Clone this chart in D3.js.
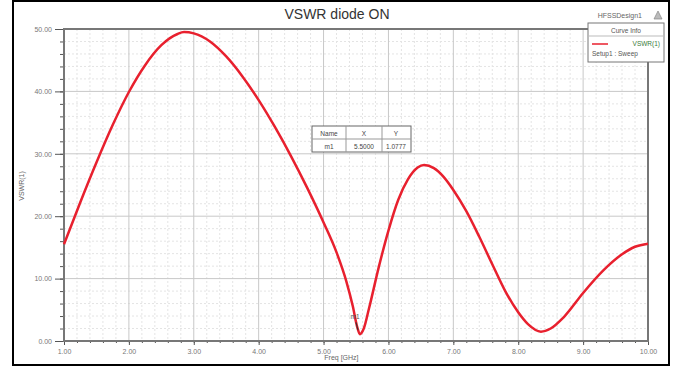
<!DOCTYPE html>
<html>
<head>
<meta charset="utf-8">
<script src="https://cdn.jsdelivr.net/npm/d3@7"></script>
<style>
  body { margin: 0; background: #fff; }
  svg text { font-family: "Liberation Sans", Arial, sans-serif; }
</style>
</head>
<body>
<div id="chart"></div>
<script>
// frequency points (GHz) and VSWR values
const freqs = [1.0, 1.25, 1.5, 1.75, 2.0, 2.25, 2.5, 2.75, 2.85, 3.0, 3.25, 3.5, 3.75, 4.0, 4.25, 4.5, 4.75, 5.0, 5.2, 5.35, 5.45, 5.52, 5.56, 5.62, 5.7, 5.85, 6.0, 6.15, 6.3, 6.45, 6.55, 6.7, 6.85, 7.0, 7.2, 7.4, 7.6, 7.8, 8.0, 8.15, 8.35, 8.5, 8.7, 9.0, 9.3, 9.6, 9.8, 10.0];
const vswr  = [15.5, 22.2, 28.6, 34.6, 39.9, 44.2, 47.4, 49.2, 49.5, 49.3, 48.0, 45.6, 42.4, 38.6, 34.3, 29.6, 24.5, 19.0, 14.2, 9.6, 5.6, 2.2, 1.1, 2.0, 5.2, 11.8, 17.7, 22.6, 25.9, 27.8, 28.2, 27.7, 26.3, 24.2, 20.8, 16.7, 12.3, 8.0, 4.6, 2.7, 1.5, 2.0, 3.8, 7.7, 11.2, 13.9, 15.1, 15.6];

const xTicks = [1, 2, 3, 4, 5, 6, 7, 8, 9, 10];
const yTicks = [0, 10, 20, 30, 40, 50];

const markerName = 'm1';
const markerX = 5.5;
const markerY = 1.0777;

const W = 674, H = 367;
const plot = { left: 64, top: 29, right: 648, bottom: 341 };

const svg = d3.select('#chart').append('svg')
  .attr('width', W)
  .attr('height', H);

// outer window frame
svg.append('rect')
  .attr('x', 13).attr('y', 1)
  .attr('width', 656).attr('height', 364)
  .attr('fill', '#fff')
  .attr('stroke', '#000')
  .attr('stroke-width', 2);

const x = d3.scaleLinear().domain([1, 10]).range([plot.left, plot.right]);
const y = d3.scaleLinear().domain([0, 50]).range([plot.bottom, plot.top]);

// minor grid
const g = svg.append('g');
g.selectAll('.vminor')
  .data(d3.range(1, 10.001, 0.2).filter(v => Math.abs(v - Math.round(v)) > 0.01))
  .join('line')
  .attr('x1', d => x(d)).attr('x2', d => x(d))
  .attr('y1', plot.top).attr('y2', plot.bottom)
  .attr('stroke', '#e4e4e4').attr('stroke-dasharray', '2,2').attr('stroke-width', 1);
g.selectAll('.hminor')
  .data(d3.range(0, 50.001, 2).filter(v => v % 10 !== 0))
  .join('line')
  .attr('x1', plot.left).attr('x2', plot.right)
  .attr('y1', d => y(d)).attr('y2', d => y(d))
  .attr('stroke', '#e4e4e4').attr('stroke-dasharray', '2,2').attr('stroke-width', 1);

// major grid
g.selectAll('.vmajor')
  .data(xTicks)
  .join('line')
  .attr('x1', d => x(d)).attr('x2', d => x(d))
  .attr('y1', plot.top).attr('y2', plot.bottom)
  .attr('stroke', '#c8c8c8').attr('stroke-width', 1);
g.selectAll('.hmajor')
  .data(yTicks)
  .join('line')
  .attr('x1', plot.left).attr('x2', plot.right)
  .attr('y1', d => y(d)).attr('y2', d => y(d))
  .attr('stroke', '#c8c8c8').attr('stroke-width', 1);

// axes
const xAxis = svg.append('g')
  .attr('transform', `translate(0,${plot.bottom})`)
  .call(d3.axisBottom(x).tickValues(xTicks).tickFormat(d3.format('.2f')).tickSize(4).tickPadding(4));
const xMinor = svg.append('g')
  .attr('transform', `translate(0,${plot.bottom})`)
  .call(d3.axisBottom(x).tickValues(d3.range(1, 10.001, 0.2)).tickFormat('').tickSize(2));

const yAxis = svg.append('g')
  .attr('transform', `translate(${plot.left},0)`)
  .call(d3.axisLeft(y).tickValues(yTicks).tickFormat(d3.format('.2f')).tickSize(9).tickPadding(3));
const yMinor = svg.append('g')
  .attr('transform', `translate(${plot.left},0)`)
  .call(d3.axisLeft(y).tickValues(d3.range(0, 50.001, 2)).tickFormat('').tickSize(4));

[xAxis, xMinor, yAxis, yMinor].forEach(a => {
  a.select('.domain').remove();
  a.selectAll('line').attr('stroke', '#555');
  a.selectAll('text').attr('fill', '#777').style('font-size', '7px');
});

// plot frame
svg.append('rect')
  .attr('x', plot.left).attr('y', plot.top)
  .attr('width', plot.right - plot.left).attr('height', plot.bottom - plot.top)
  .attr('fill', 'none')
  .attr('stroke', '#777')
  .attr('stroke-width', 2);

// curve
const line = d3.line()
  .x((d, i) => x(freqs[i]))
  .y(d => y(d))
  .curve(d3.curveMonotoneX);

svg.append('path')
  .datum(vswr)
  .attr('d', line)
  .attr('fill', 'none')
  .attr('stroke', '#e8202e')
  .attr('stroke-width', 2.5)
  .attr('stroke-linejoin', 'round');

// marker
svg.append('text')
  .attr('x', x(markerX) - 1).attr('y', y(markerY) - 15)
  .attr('text-anchor', 'middle')
  .style('font-size', '6.5px').attr('fill', '#555')
  .text(markerName);
svg.append('path')
  .attr('d', `M${x(markerX)},${y(markerY) - 12} L${x(markerX) + 2},${y(markerY) - 4}`)
  .attr('stroke', '#333').attr('stroke-width', 1);

// title
svg.append('text')
  .attr('x', 337).attr('y', 19)
  .attr('text-anchor', 'middle')
  .style('font-size', '14px').attr('fill', '#333')
  .text('VSWR diode ON');

svg.append('text')
  .attr('x', 642).attr('y', 18)
  .attr('text-anchor', 'end')
  .style('font-size', '7px').attr('fill', '#666')
  .text('HFSSDesign1');

// small logo
svg.append('path')
  .attr('d', 'M654,19 L658,11 L662,19 Z')
  .attr('fill', '#bbb').attr('stroke', '#888').attr('stroke-width', 0.7);

// axis titles
svg.append('text')
  .attr('x', x(6.0) - 47).attr('y', 360)
  .attr('text-anchor', 'middle')
  .style('font-size', '7px').attr('fill', '#666')
  .text('Freq [GHz]');

svg.append('text')
  .attr('transform', 'translate(24,186) rotate(-90)')
  .attr('text-anchor', 'middle')
  .style('font-size', '7px').attr('fill', '#666')
  .text('VSWR(1)');

// marker table
const tbl = svg.append('g').attr('transform', 'translate(312,126)');
tbl.append('rect').attr('width', 99).attr('height', 26)
  .attr('fill', '#fff').attr('stroke', '#666').attr('stroke-width', 1);
tbl.append('line').attr('x1', 0).attr('x2', 99).attr('y1', 13).attr('y2', 13).attr('stroke', '#999');
[34, 70].forEach(cx => tbl.append('line').attr('x1', cx).attr('x2', cx).attr('y1', 0).attr('y2', 26).attr('stroke', '#999'));
const cellX = [17, 52, 84];
['Name', 'X', 'Y'].forEach((t, i) => tbl.append('text').attr('x', cellX[i]).attr('y', 9.5)
  .attr('text-anchor', 'middle').style('font-size', '6.5px').attr('fill', '#444').text(t));
[markerName, d3.format('.4f')(markerX), d3.format('.4f')(markerY)].forEach((t, i) => tbl.append('text').attr('x', cellX[i]).attr('y', 22.5)
  .attr('text-anchor', 'middle').style('font-size', '6.5px').attr('fill', '#444').text(t));

// curve info legend
const lg = svg.append('g').attr('transform', 'translate(588,23)');
lg.append('rect').attr('width', 76).attr('height', 39)
  .attr('fill', '#fff').attr('stroke', '#777').attr('stroke-width', 1);
lg.append('line').attr('x1', 0).attr('x2', 76).attr('y1', 13).attr('y2', 13).attr('stroke', '#bbb');
lg.append('text').attr('x', 38).attr('y', 10).attr('text-anchor', 'middle')
  .style('font-size', '6.5px').attr('fill', '#555').text('Curve Info');
lg.append('line').attr('x1', 4).attr('x2', 20).attr('y1', 21).attr('y2', 21)
  .attr('stroke', '#e8202e').attr('stroke-width', 1.5);
lg.append('text').attr('x', 72).attr('y', 23).attr('text-anchor', 'end')
  .style('font-size', '6.5px').attr('fill', '#3a7a3a').text('VSWR(1)');
lg.append('text').attr('x', 4).attr('y', 33)
  .style('font-size', '6.5px').attr('fill', '#555').text('Setup1 : Sweep');
</script>
</body>
</html>
